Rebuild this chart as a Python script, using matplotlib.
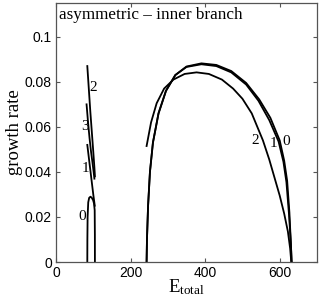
import matplotlib
matplotlib.use("Agg")
import matplotlib.pyplot as plt

# right (large) branches
E0_right = [243, 244, 247, 252, 260, 275, 295, 320, 350, 390, 430, 470, 510, 545, 575, 600, 612, 620, 626, 630, 632]
g0_right = [0, 0.01, 0.025, 0.04, 0.053, 0.066, 0.076, 0.083, 0.0868, 0.0882, 0.0875, 0.0848, 0.0795, 0.0722, 0.064, 0.054, 0.045, 0.036, 0.022, 0.008, 0]
E1_right = [243, 244, 247, 252, 260, 275, 295, 320, 350, 390, 430, 470, 510, 543, 572, 597, 610, 618, 625, 630, 632]
g1_right = [0, 0.01, 0.025, 0.04, 0.053, 0.066, 0.076, 0.083, 0.0866, 0.0878, 0.087, 0.0842, 0.0788, 0.0716, 0.063, 0.0535, 0.0445, 0.0355, 0.021, 0.008, 0]
E2_right = [243, 255, 270, 290, 315, 345, 377, 410, 445, 475, 500, 525, 555, 572, 586, 600, 612, 622, 628, 631]
g2_right = [0.0515, 0.062, 0.0705, 0.077, 0.081, 0.0835, 0.0842, 0.0835, 0.081, 0.077, 0.0725, 0.066, 0.054, 0.0455, 0.0375, 0.0295, 0.0215, 0.0135, 0.006, 0]

# left (small) branches
E0_left = [84, 84.2, 84.8, 86.5, 89, 92.5, 96, 99.5, 102, 103.8, 104.3, 104.4]
g0_left = [0, 0.01, 0.02, 0.0265, 0.0285, 0.029, 0.0285, 0.0275, 0.026, 0.023, 0.012, 0]
E1_left = [84, 88, 92, 96, 100, 104]
g1_left = [0.052, 0.0465, 0.041, 0.0355, 0.030, 0.025]
E2_left = [84, 88, 92, 96, 100, 103, 104.5]
g2_left = [0.087, 0.077, 0.067, 0.058, 0.049, 0.042, 0.038]
E3_left = [82, 86, 90, 94, 98, 101, 103]
g3_left = [0.070, 0.062, 0.055, 0.049, 0.044, 0.040, 0.037]

# branch labels: (text, E, growth rate)
labels = [("0", 71, 0.020), ("1", 78, 0.0415), ("3", 78, 0.060), ("2", 100, 0.0776),
          ("2", 533, 0.054), ("1", 584, 0.0525), ("0", 618, 0.0537)]

SERIF = ["Liberation Serif", "DejaVu Serif"]
SANS = ["Liberation Sans", "DejaVu Sans"]

plt.rcParams["mathtext.fontset"] = "custom"
plt.rcParams["mathtext.rm"] = "Liberation Serif"
plt.rcParams["mathtext.it"] = "Liberation Serif:italic"

fig = plt.figure(figsize=(3.19, 2.97), dpi=100)
ax = fig.add_axes([0.1755, 0.1178, 0.8182, 0.8721])

for E, g in [(E0_right, g0_right), (E1_right, g1_right), (E2_right, g2_right),
             (E0_left, g0_left), (E1_left, g1_left), (E2_left, g2_left), (E3_left, g3_left)]:
    ax.plot(E, g, color="black", lw=1.3)

for txt, E, g in labels:
    ax.text(E, g, txt, family=SERIF, fontsize=11, ha="center", va="center")

ax.text(0.012, 0.954, "asymmetric \u2013 inner branch", transform=ax.transAxes,
        family=SERIF, fontsize=12.3, ha="left", va="center")

ax.set_xlim(0, 700)
ax.set_ylim(0, 0.115)
ax.set_xticks([0, 200, 400, 600])
ax.set_yticks([0, 0.02, 0.04, 0.06, 0.08, 0.1])
ax.set_yticklabels(["0", "0.02", "0.04", "0.06", "0.08", "0.1"])
ax.tick_params(direction="in", length=3, width=0.8, top=True, right=True,
               color="#555555", labelsize=10, pad=3)
for lab in ax.get_xticklabels() + ax.get_yticklabels():
    lab.set_family(SANS)
for sp in ax.spines.values():
    sp.set_color("#555555")
    sp.set_linewidth(0.9)

ax.set_ylabel("growth rate", family=SERIF, fontsize=13.5, labelpad=1)
ax.set_xlabel(r"E$_{\rm total}$", family=SERIF, fontsize=13.5, labelpad=-2)

fig.savefig("out.png", dpi=100)
